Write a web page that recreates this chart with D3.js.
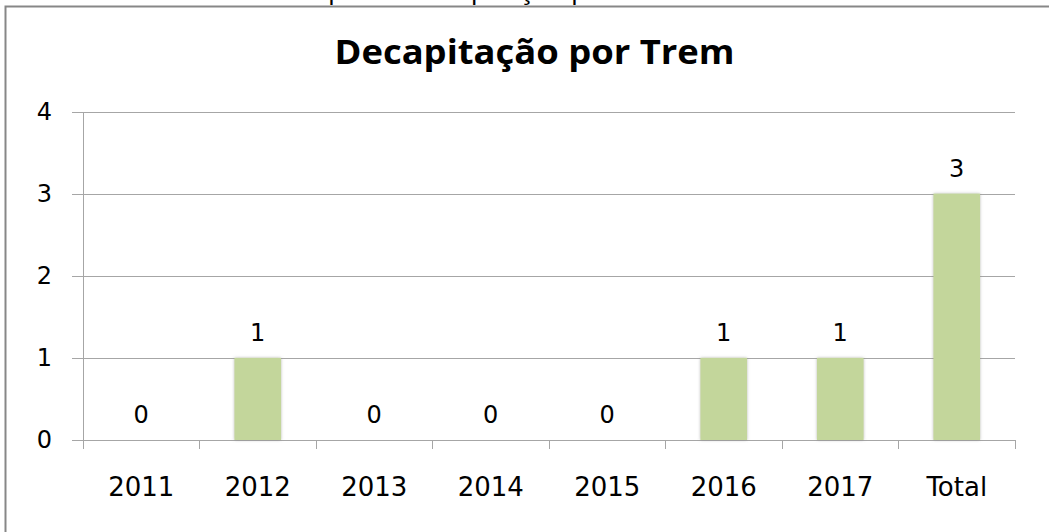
<!doctype html>
<html lang="pt">

<head>
  <meta charset="utf-8">
  <style>
    html, body { margin: 0; padding: 0; background: #fff; }
    svg { display: block; }
  </style>
</head>

<body>
  <script src="https://d3js.org/d3.v7.min.js" charset="utf-8"></script>
  <div id="chart"></div>

  <script>
    // data
    var categories = ["2011", "2012", "2013", "2014", "2015", "2016", "2017", "Total"];
    var values = [0, 1, 0, 0, 0, 1, 1, 3];
    var yTicks = [0, 1, 2, 3, 4];
    var chartTitle = "Decapitação por Trem";
    var caption = "Tipo de Decapitação por Trem";

    var width = 1049, height = 532;
    var plotLeft = 83, plotRight = 1015, plotTop = 111.5, plotBottom = 440;

    var svg = d3.select("#chart").append("svg")
      .attr("width", width)
      .attr("height", height);

    var defs = svg.append("defs");
    defs.append("clipPath").attr("id", "capclip")
      .append("rect").attr("x", 0).attr("y", 0).attr("width", width).attr("height", 5.5);
    var shadow = defs.append("filter").attr("id", "barshadow")
      .attr("x", "-20%").attr("y", "-5%").attr("width", "140%").attr("height", "110%");
    shadow.append("feDropShadow")
      .attr("dx", 0).attr("dy", 0).attr("stdDeviation", 1.6)
      .attr("flood-color", "#808080").attr("flood-opacity", 0.55);

    // caption of the page above, cut off by the top of the picture
    var cap = svg.append("text")
      .attr("clip-path", "url(#capclip)")
      .attr("x", 300).attr("y", -1)
      .style("font-family", "'Open Sans', sans-serif")
      .style("font-size", "26px")
      .attr("fill", "#000")
      .text(caption);
    // line the first and last "p" up with the marks seen in the picture
    var firstP = caption.indexOf("p"), lastP = caption.lastIndexOf("p");
    var node = cap.node();
    var natural = node.getComputedTextLength();
    var p0 = node.getStartPositionOfChar(firstP).x - 300;
    var p1 = node.getStartPositionOfChar(lastP).x - 300;
    var k = (571 - 328) / (p1 - p0);
    cap.attr("x", 328 - p0 * k)
      .attr("textLength", natural * k)
      .attr("lengthAdjust", "spacingAndGlyphs");

    // chart frame
    svg.append("rect")
      .attr("x", 5.5).attr("y", 6.5)
      .attr("width", 1062).attr("height", 540)
      .attr("fill", "none")
      .attr("stroke", "#878787")
      .attr("stroke-width", 2);

    // title
    svg.append("text")
      .attr("x", 534.5).attr("y", 64)
      .attr("text-anchor", "middle")
      .attr("textLength", 400)
      .attr("lengthAdjust", "spacingAndGlyphs")
      .style("font-family", "'Open Sans', sans-serif")
      .style("font-weight", "bold")
      .style("font-size", "34px")
      .attr("fill", "#000")
      .text(chartTitle);

    var x = d3.scaleBand()
      .domain(categories)
      .range([plotLeft, plotRight])
      .paddingInner(0.6)
      .paddingOuter(0.3);

    var y = d3.scaleLinear()
      .domain([0, 4])
      .range([plotBottom, plotTop]);

    // gridlines + y labels
    var yAxis = svg.append("g")
      .attr("transform", "translate(" + (plotLeft - 11) + ",0)")
      .call(d3.axisLeft(y).tickValues(yTicks).tickSize(-(plotRight - plotLeft + 11)).tickPadding(20)
        .tickFormat(d3.format("d")));
    yAxis.select(".domain").remove();
    yAxis.selectAll(".tick line").attr("stroke", "#a6a6a6").attr("shape-rendering", "crispEdges");
    yAxis.selectAll(".tick text")
      .style("font-family", "'DejaVu Sans', sans-serif")
      .style("font-size", "24px")
      .attr("fill", "#000");

    // y axis line
    svg.append("line")
      .attr("x1", plotLeft).attr("x2", plotLeft)
      .attr("y1", y(4)).attr("y2", y(0))
      .attr("stroke", "#a6a6a6").attr("shape-rendering", "crispEdges");

    // x axis: labels from the axis, tick marks on category edges
    var xAxis = svg.append("g")
      .attr("transform", "translate(0," + plotBottom + ")")
      .call(d3.axisBottom(x).tickSize(0).tickPadding(37.5));
    xAxis.select(".domain").remove();
    xAxis.selectAll(".tick text")
      .style("font-family", "'DejaVu Sans', sans-serif")
      .style("font-size", "26px")
      .attr("fill", "#000");

    var edges = categories.map(function (c) { return x(c) - x.step() * 0.3; })
      .concat([plotRight]);
    svg.append("g").selectAll("line").data(edges).enter()
      .append("line")
      .attr("x1", function (d) { return d; })
      .attr("x2", function (d) { return d; })
      .attr("y1", plotBottom).attr("y2", plotBottom + 9)
      .attr("stroke", "#a6a6a6").attr("shape-rendering", "crispEdges");
    svg.append("line")
      .attr("x1", plotLeft).attr("x2", plotRight)
      .attr("y1", plotBottom).attr("y2", plotBottom)
      .attr("stroke", "#a6a6a6").attr("shape-rendering", "crispEdges");

    // bars
    svg.append("g").selectAll("rect").data(values).enter()
      .append("rect")
      .attr("x", function (d, i) { return x(categories[i]); })
      .attr("width", x.bandwidth())
      .attr("y", function (d) { return y(d); })
      .attr("height", function (d) { return plotBottom - y(d); })
      .attr("fill", "#c3d69b")
      .attr("filter", "url(#barshadow)");

    // value labels
    svg.append("g").selectAll("text").data(values).enter()
      .append("text")
      .attr("x", function (d, i) { return x(categories[i]) + x.bandwidth() / 2; })
      .attr("y", function (d) { return y(d) - 17; })
      .attr("text-anchor", "middle")
      .style("font-family", "'DejaVu Sans', sans-serif")
      .style("font-size", "24px")
      .attr("fill", "#000")
      .text(function (d) { return d; });
  </script>
</body>

</html>
